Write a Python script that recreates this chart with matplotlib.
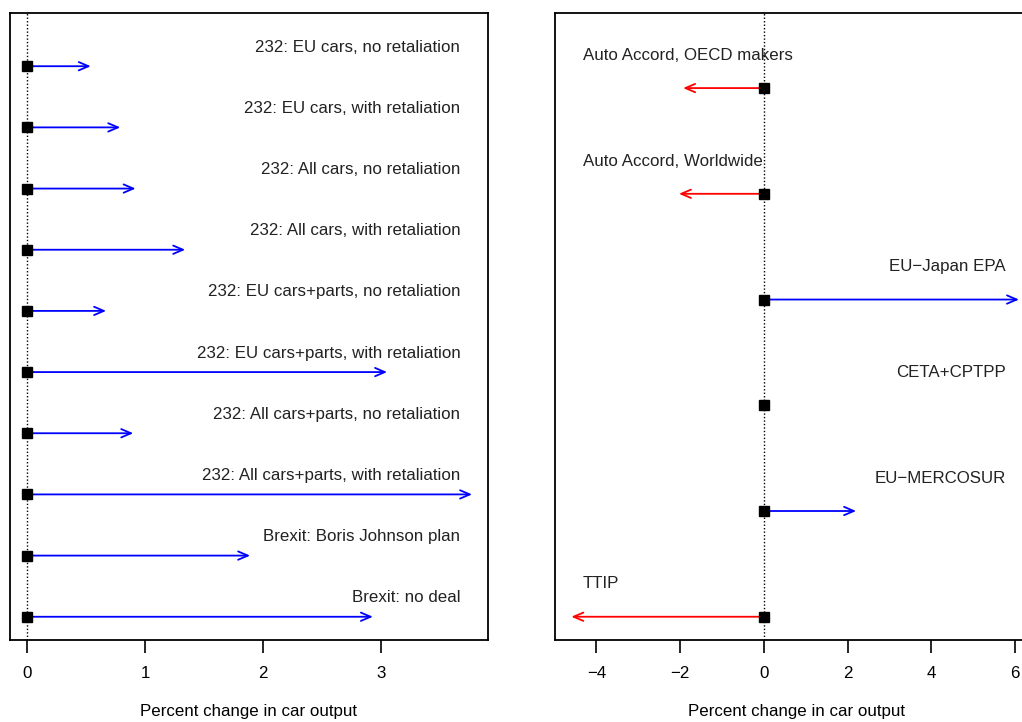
import matplotlib.pyplot as plt

plt.rcParams['font.family'] = ['Liberation Sans', 'DejaVu Sans']

# left panel: section 232 tariffs and Brexit scenarios
left_labels = ["232: EU cars, no retaliation",
               "232: EU cars, with retaliation",
               "232: All cars, no retaliation",
               "232: All cars, with retaliation",
               "232: EU cars+parts, no retaliation",
               "232: EU cars+parts, with retaliation",
               "232: All cars+parts, no retaliation",
               "232: All cars+parts, with retaliation",
               "Brexit: Boris Johnson plan",
               "Brexit: no deal"]
left_vals = [0.54, 0.79, 0.92, 1.34, 0.67, 3.05, 0.90, 3.77, 1.89, 2.93]

# right panel: trade agreements
right_labels = ["Auto Accord, OECD makers",
                "Auto Accord, Worldwide",
                "EU\u2212Japan EPA",
                "CETA+CPTPP",
                "EU\u2212MERCOSUR",
                "TTIP"]
right_vals = [-1.93, -2.03, 6.09, 0.03, 2.2, -4.6]
right_align = ["left", "left", "right", "right", "right", "left"]

W, H = 1022, 722
FS = 12.2
fig = plt.figure(figsize=(W / 100, H / 100), dpi=100)


def panel(ax, labels, vals, xlim, ylim, ticks, xtext):
    ax.axvline(0, color='black', ls=(0, (1, 1.5)), lw=1, zorder=1)
    for i, (lab, v) in enumerate(zip(labels, vals)):
        y = i + 1
        col = 'blue' if v >= 0 else 'red'
        if abs(v) < 0.1:
            # too short for a head, just the stub
            ax.plot([0, v], [y, y], color=col, lw=1.3, zorder=2)
        else:
            ax.annotate('', xy=(v, y), xytext=(0, y),
                        arrowprops=dict(arrowstyle='->,head_length=0.7,head_width=0.3',
                                        color=col, lw=1.3, shrinkA=0, shrinkB=0),
                        zorder=2)
        ax.plot(0, y, 's', color='black', ms=6.5, zorder=3)
        tx, ha = xtext(i)
        ax.text(tx, y - 0.31, lab, ha=ha, va='center', fontsize=FS, color='#222222')
    ax.set_xlim(*xlim)
    ax.set_ylim(*ylim)
    ax.set_yticks([])
    ax.set_xticks(ticks)
    ax.tick_params(axis='x', length=9, width=1.2, pad=10, labelsize=FS)
    ax.set_xlabel('Percent change in car output', fontsize=FS, labelpad=16.5)
    for s in ax.spines.values():
        s.set_linewidth(1.3)


ax1 = fig.add_axes([10 / W, (H - 640) / H, 478 / W, 627 / H])
panel(ax1, left_labels, left_vals, (-0.144, 3.905), (10.38, 0.13),
      [0, 1, 2, 3], lambda i: (3.67, 'right'))

ax2 = fig.add_axes([555 / W, (H - 640) / H, 482 / W, 627 / H])
panel(ax2, right_labels, right_vals, (-4.99, 6.52), (6.22, 0.29),
      [-4, -2, 0, 2, 4, 6],
      lambda i: (-4.32, 'left') if right_align[i] == 'left' else (5.78, 'right'))

fig.savefig('out.png', dpi=100)
